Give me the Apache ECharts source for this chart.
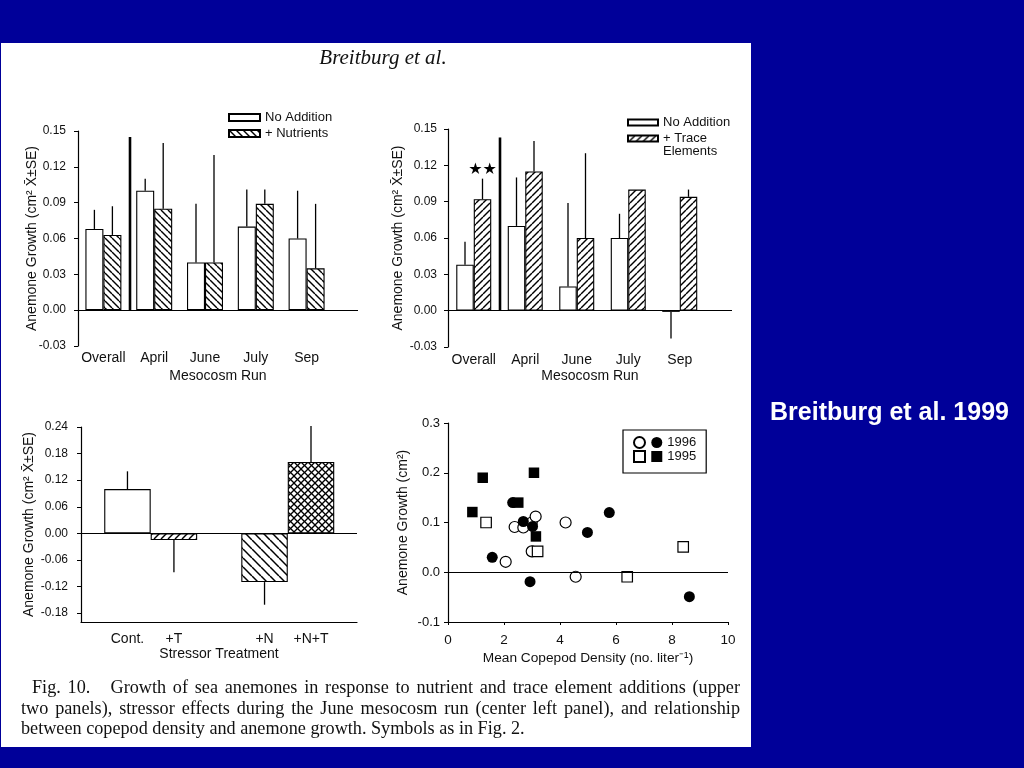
<!DOCTYPE html>
<html><head><meta charset="utf-8">
<script src="https://cdn.jsdelivr.net/npm/echarts@6/dist/echarts.min.js"></script>
<style>
html,body{margin:0;padding:0;background:#000099;width:1024px;height:768px;overflow:hidden}
#paper{position:absolute;left:1px;top:43px;width:750px;height:704px;background:#fff}
#chart{position:absolute;left:0;top:0;width:1024px;height:768px}
</style></head><body>
<div id="paper"></div><div id="chart"></div>
<script>
// ---------------- data ----------------
const runCategories = ['Overall', 'April', 'June', 'July', 'Sep'];

// upper-left: nutrients
const nutrNoAdd    = [0.068, 0.100, 0.040, 0.070, 0.060];
const nutrNoAddTop = [0.084, 0.110, 0.089, 0.101, 0.100];
const nutrAdd      = [0.063, 0.085, 0.040, 0.089, 0.035];
const nutrAddTop   = [0.087, 0.140, 0.130, 0.101, 0.089];
const nutrDividerTop = 0.145;

// upper-right: trace elements
const traceNoAdd    = [0.038, 0.070, 0.020, 0.060, -0.001];
const traceNoAddTop = [0.057, 0.110, 0.089, 0.080, -0.023];
const traceAdd      = [0.092, 0.115, 0.060, 0.100, 0.094];
const traceAddTop   = [0.109, 0.140, 0.130, 0.100, 0.100];
const traceDividerTop = 0.143;
const traceStarValue = 0.116;

// lower-left: stressor treatment (June)
const stressCategories = ['Cont.', '+T', '+N', '+N+T'];
const stressValues = [0.100, -0.015, -0.110, 0.161];
const stressErrEnd = [0.140, -0.088, -0.161, 0.242];
const stressTicks = [-0.18, -0.12, -0.06, 0, 0.06, 0.12, 0.18, 0.24];

// lower-right: copepod density vs growth
const open1996   = [[2.38,0.091],[2.69,0.090],[2.99,0.100],[3.13,0.112],[4.20,0.100],[2.06,0.021],[4.56,-0.009],[2.99,0.042]];
const filled1996 = [[2.31,0.140],[2.69,0.102],[3.02,0.092],[1.58,0.030],[2.93,-0.019],[4.98,0.080],[5.76,0.120],[8.62,-0.049]];
const open1995   = [[1.36,0.100],[3.20,0.042],[6.40,-0.009],[8.40,0.051]];
const filled1995 = [[0.87,0.121],[1.24,0.190],[2.51,0.140],[3.07,0.200],[3.14,0.072]];

const captionLines = [
  'Fig. 10.   Growth of sea anemones in response to nutrient and trace element additions (upper',
  'two panels), stressor effects during the June mesocosm run (center left panel), and relationship',
  'between copepod density and anemone growth. Symbols as in Fig. 2.'
];

// ---------------- layout / style ----------------
const FONT = 'Liberation Sans';
const INK = '#111';
const tlUnit = 50.8, trUnit = 51.5;               // px per category slot
const tlW = 280, trW = 284;
const stressPos = [1, 2, 3.95, 4.95];             // slot positions of stressor bars
const stressMax = 5.94;

function fix(d) { return v => (Math.abs(v) < 1e-9 ? 0 : v).toFixed(d); }

function hatch(dirs, s, lw) {
  const c = document.createElement('canvas');
  c.width = s; c.height = s;
  const g = c.getContext('2d');
  g.fillStyle = '#fff'; g.fillRect(0, 0, s, s);
  g.strokeStyle = '#000'; g.lineWidth = lw;
  dirs.forEach(d => {
    for (let k = -1; k <= 1; k++) {
      g.beginPath();
      if (d === 'b') { g.moveTo(k * s, 0); g.lineTo(k * s + s, s); }
      else { g.moveTo(k * s, s); g.lineTo(k * s + s, 0); }
      g.stroke();
    }
  });
  return { image: c, repeat: 'repeat' };
}
const patBack = hatch(['b'], 7, 1.4);
const patFwd = hatch(['f'], 7, 1.4);
const patBackWide = hatch(['b'], 9, 1.5);
const patCross = hatch(['b', 'f'], 7, 1.3);
const stressFills = ['#fff', patFwd, patBackWide, patCross];

const zeroLine = {
  symbol: 'none', silent: true, label: { show: false },
  lineStyle: { color: '#000', width: 1.2, type: 'solid' },
  data: [{ yAxis: 0 }]
};

function errSeries(xi, rows, offPx, lw) {
  return {
    type: 'custom', xAxisIndex: xi, yAxisIndex: xi, silent: true, clip: false, z: 5,
    data: rows,
    renderItem: (p, api) => {
      const a = api.coord([api.value(0), api.value(1)]);
      const b = api.coord([api.value(0), api.value(2)]);
      return { type: 'line', shape: { x1: a[0] + offPx, y1: a[1], x2: b[0] + offPx, y2: b[1] },
               style: { stroke: '#000', lineWidth: lw } };
    }
  };
}

// justified caption text (words spread between x0 and x1)
const measureCtx = document.createElement('canvas').getContext('2d');
function captionLine(str, x0, x1, y, font, justify) {
  const parts = str.split(' ');
  const words = [], weights = [];
  let w = 0;
  parts.forEach(p => { if (p === '') { w++; } else { words.push(p); weights.push(words.length > 1 ? w + 1 : 0); w = 0; } });
  measureCtx.font = font;
  const widths = words.map(t => measureCtx.measureText(t).width);
  const spaceW = measureCtx.measureText(' ').width;
  const total = widths.reduce((a, b) => a + b, 0);
  const wsum = weights.reduce((a, b) => a + b, 0);
  const gapUnit = justify ? (x1 - x0 - total) / wsum : spaceW;
  let x = x0;
  return words.map((t, i) => {
    x += weights[i] * gapUnit;
    const el = { type: 'text', x: x, y: y, style: { text: t, verticalAlign: 'middle', font: font, fill: '#111' } };
    x += widths[i];
    return el;
  });
}
const capFont = '18.2px "Liberation Serif"';

const txt = { fontFamily: FONT, color: INK };
const yNameBase = 'Anemone Growth (cm² X̄±SE)';

function runXAxis(gi, max, margin, gap) {
  return {
    gridIndex: gi, type: 'value', min: 0, max: max,
    axisLine: { show: false }, axisTick: { show: false }, splitLine: { show: false },
    axisLabel: { customValues: runCategories.map((c, i) => i + 0.5),
                 formatter: v => runCategories[Math.round(v - 0.5)] || '',
                 fontSize: 14, margin: margin, ...txt },
    name: 'Mesocosm Run', nameLocation: 'middle', nameGap: gap,
    nameTextStyle: { fontSize: 14, ...txt }
  };
}
function runYAxis(gi, gap, margin) {
  return {
    gridIndex: gi, type: 'value', min: -0.03, max: 0.15, interval: 0.03,
    axisLine: { show: true, lineStyle: { color: '#000', width: 1.2 } },
    axisTick: { show: true, length: 4, lineStyle: { color: '#000' } },
    splitLine: { show: false },
    axisLabel: { formatter: fix(2), fontSize: 12, margin: margin, ...txt },
    name: yNameBase, nameLocation: 'middle', nameGap: gap, nameMoveOverlap: false,
    nameTextStyle: { fontSize: 14, ...txt }
  };
}

const option = {
  animation: false,
  grid: [
    { left: 78, top: 131, width: tlW, height: 215 },
    { left: 448, top: 129, width: trW, height: 218 },
    { left: 81, top: 427, width: 276, height: 195 },
    { left: 448, top: 423, width: 280, height: 199 }
  ],
  xAxis: [
    runXAxis(0, tlW / tlUnit, 5, 23),
    runXAxis(1, trW / trUnit, 6, 22),
    {
      gridIndex: 2, type: 'value', min: 0, max: stressMax,
      axisLine: { show: true, onZero: false, lineStyle: { color: '#000', width: 1.2 } },
      axisTick: { show: false }, splitLine: { show: false },
      axisLabel: { customValues: stressPos,
                   formatter: v => stressCategories[stressPos.findIndex(p => Math.abs(p - v) < 1e-6)] || '',
                   fontSize: 14, margin: 10, ...txt },
      name: 'Stressor Treatment', nameLocation: 'middle', nameGap: 24,
      nameTextStyle: { fontSize: 14, ...txt }
    },
    {
      gridIndex: 3, type: 'value', min: 0, max: 10, interval: 2,
      axisLine: { show: true, onZero: false, lineStyle: { color: '#000', width: 1.2 } },
      axisTick: { show: true, length: 3, lineStyle: { color: '#000' } },
      splitLine: { show: false },
      axisLabel: { fontSize: 13.5, margin: 11, ...txt },
      name: 'Mean Copepod Density (no. liter⁻¹)', nameLocation: 'middle', nameGap: 29,
      nameTextStyle: { fontSize: 13.7, ...txt }
    }
  ],
  yAxis: [
    runYAxis(0, 39, 12),
    runYAxis(1, 43, 11),
    {
      gridIndex: 2, type: 'value', min: -0.2, max: 0.24,
      axisLine: { show: true, lineStyle: { color: '#000', width: 1.2 } },
      axisTick: { show: true, length: 4, customValues: stressTicks, lineStyle: { color: '#000' } },
      splitLine: { show: false },
      axisLabel: { customValues: stressTicks, formatter: fix(2), fontSize: 12, margin: 13, ...txt },
      name: yNameBase, nameLocation: 'middle', nameGap: 45,
      nameTextStyle: { fontSize: 14, ...txt }
    },
    {
      gridIndex: 3, type: 'value', min: -0.1, max: 0.3, interval: 0.1,
      axisLine: { show: true, lineStyle: { color: '#000', width: 1.2 } },
      axisTick: { show: true, length: 4, lineStyle: { color: '#000' } },
      splitLine: { show: false },
      axisLabel: { formatter: fix(1), fontSize: 13, margin: 8, ...txt },
      name: 'Anemone Growth (cm²)', nameLocation: 'middle', nameGap: 37.5,
      nameTextStyle: { fontSize: 14, ...txt }
    }
  ],
  legend: [
    { left: 228, top: 111, orient: 'vertical', itemWidth: 31, itemHeight: 7, itemGap: 3,
      icon: 'rect', selectedMode: false, padding: 0,
      data: ['No Addition', '+ Nutrients'], textStyle: { fontSize: 13, ...txt } },
    { left: 627, top: 116, orient: 'vertical', itemWidth: 30, itemHeight: 6, itemGap: -10,
      icon: 'rect', selectedMode: false, padding: 0,
      data: ['No Addition', '+ Trace Elements'],
      formatter: n => n === '+ Trace Elements' ? '\n+ Trace\nElements' : n,
      textStyle: { fontSize: 13, lineHeight: 13, ...txt } },
    { left: 623, top: 430, orient: 'horizontal', width: 70, itemWidth: 11, itemHeight: 11, itemGap: 1,
      selectedMode: false, padding: [6, 10, 10, 10], borderColor: '#000', borderWidth: 1.2, borderRadius: 0,
      data: [{ name: '1996o', icon: 'circle', textStyle: { fontSize: 1 } }, { name: '1996', icon: 'circle' },
             { name: '1995o', icon: 'rect', textStyle: { fontSize: 1 } }, { name: '1995', icon: 'rect' }],
      formatter: n => n.endsWith('o') ? ' ' : n,
      textStyle: { fontSize: 13, ...txt } }
  ],
  graphic: [
    { type: 'text', x: 383, y: 58, style: { text: 'Breitburg et al.', align: 'center', verticalAlign: 'middle',
        font: 'italic 21px "Liberation Serif"', fill: '#111' } },
    { type: 'text', x: 770, y: 413, style: { text: 'Breitburg et al. 1999', align: 'left', verticalAlign: 'middle',
        font: 'bold 25px "Liberation Sans"', fill: '#fff' } },
    ...captionLine(captionLines[0], 32, 740, 688, capFont, true),
    ...captionLine(captionLines[1], 21, 740, 709, capFont, true),
    ...captionLine(captionLines[2], 21, 740, 729, capFont, false)
  ],
  series: [
    // upper-left
    { type: 'bar', name: 'No Addition', xAxisIndex: 0, yAxisIndex: 0, barWidth: 18, barGap: '0%',
      data: nutrNoAdd.map((v, i) => [i + 0.5, v]),
      itemStyle: { color: '#fff', borderColor: '#000', borderWidth: 1.1 }, markLine: zeroLine },
    { type: 'bar', name: '+ Nutrients', xAxisIndex: 0, yAxisIndex: 0, barWidth: 18, barGap: '0%',
      data: nutrAdd.map((v, i) => [i + 0.5, v]),
      itemStyle: { color: patBack, borderColor: '#000', borderWidth: 1.1 } },
    errSeries(0, nutrNoAdd.map((v, i) => [i + 0.5, v, nutrNoAddTop[i]]), -9, 1.3),
    errSeries(0, nutrAdd.map((v, i) => [i + 0.5, v, nutrAddTop[i]]), 9, 1.3),
    errSeries(0, [[52 / tlUnit, 0, nutrDividerTop]], 0, 2.6),
    // upper-right
    { type: 'bar', name: 'No Addition', xAxisIndex: 1, yAxisIndex: 1, barWidth: 17.5, barGap: '0%',
      data: traceNoAdd.map((v, i) => [i + 0.5, v]),
      itemStyle: { color: '#fff', borderColor: '#000', borderWidth: 1.1 }, markLine: zeroLine },
    { type: 'bar', name: '+ Trace Elements', xAxisIndex: 1, yAxisIndex: 1, barWidth: 17.5, barGap: '0%',
      data: traceAdd.map((v, i) => [i + 0.5, v]),
      itemStyle: { color: patFwd, borderColor: '#000', borderWidth: 1.1 } },
    errSeries(1, traceNoAdd.map((v, i) => [i + 0.5, v, traceNoAddTop[i]]), -8.75, 1.3),
    errSeries(1, traceAdd.map((v, i) => [i + 0.5, v, traceAddTop[i]]), 8.75, 1.3),
    errSeries(1, [[52 / trUnit, 0, traceDividerTop]], 0, 2.6),
    { type: 'custom', xAxisIndex: 1, yAxisIndex: 1, silent: true, z: 6,
      data: [[0.5, traceStarValue]],
      renderItem: (p, api) => {
        const c = api.coord([api.value(0), api.value(1)]);
        return { type: 'text', x: c[0] + 8.75, y: c[1],
                 style: { text: '★★', align: 'center', verticalAlign: 'middle', font: '16px "DejaVu Sans"', fill: '#000' } };
      } },
    // lower-left
    { type: 'bar', name: 'stress', xAxisIndex: 2, yAxisIndex: 2, barWidth: 46.5,
      data: stressValues.map((v, i) => ({ value: [stressPos[i], v],
        itemStyle: { color: stressFills[i], borderColor: '#000', borderWidth: 1.1 } })),
      markLine: zeroLine },
    errSeries(2, stressValues.map((v, i) => [stressPos[i], v, stressErrEnd[i]]), 0, 1.3),
    // lower-right
    { type: 'scatter', name: '1996o', xAxisIndex: 3, yAxisIndex: 3, symbol: 'circle', symbolSize: 11,
      data: open1996, itemStyle: { color: '#fff', borderColor: '#000', borderWidth: 1.2, opacity: 1 }, markLine: zeroLine },
    { type: 'scatter', name: '1996', xAxisIndex: 3, yAxisIndex: 3, symbol: 'circle', symbolSize: 11,
      data: filled1996, itemStyle: { color: '#000', opacity: 1 } },
    { type: 'scatter', name: '1995o', xAxisIndex: 3, yAxisIndex: 3, symbol: 'rect', symbolSize: 10.5,
      data: open1995, itemStyle: { color: '#fff', borderColor: '#000', borderWidth: 1.2, opacity: 1 } },
    { type: 'scatter', name: '1995', xAxisIndex: 3, yAxisIndex: 3, symbol: 'rect', symbolSize: 10.5,
      data: filled1995, itemStyle: { color: '#000', opacity: 1 } }
  ]
};

const chart = echarts.init(document.getElementById('chart'), null, { renderer: 'canvas' });
chart.setOption(option);
</script>
</body></html>
